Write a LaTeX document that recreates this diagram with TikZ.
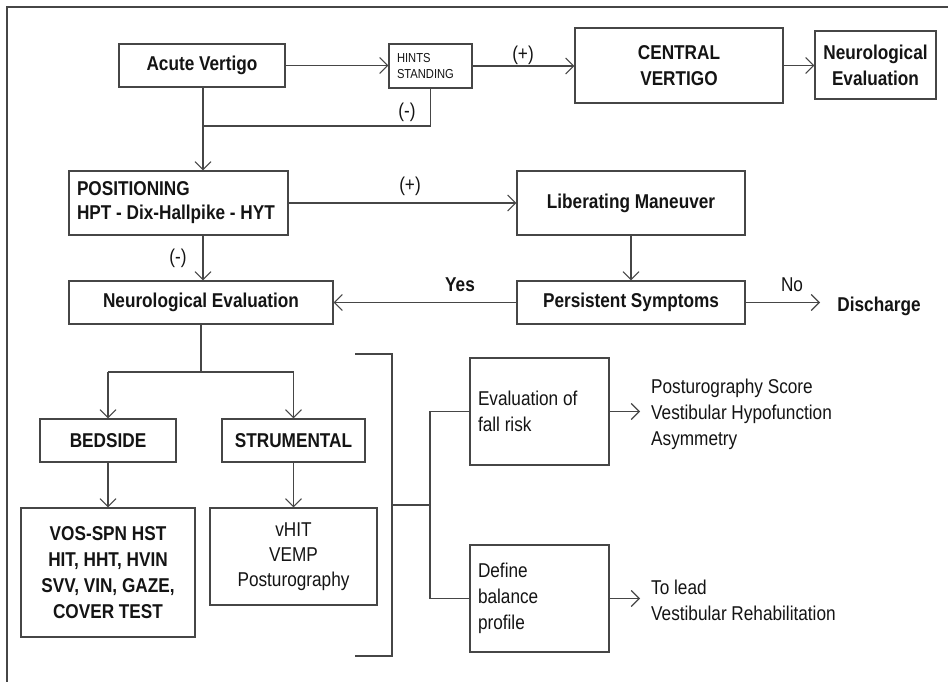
\documentclass[tikz,border=0pt]{standalone}
\usepackage{fontspec}
\setmainfont{Liberation Sans}[FakeStretch=0.86]
\usetikzlibrary{arrows.meta}
\definecolor{ln}{RGB}{70,70,70}
\definecolor{tx}{RGB}{20,20,20}
\newcommand\mainsize{\fontsize{20}{26}\selectfont}
\newcommand\smallsize{\fontsize{13}{16}\selectfont}
\begin{document}
\begin{tikzpicture}[x=1pt,y=-1pt,
  every node/.style={text=tx, font=\mainsize},
  box/.style={draw=ln, line width=1.1pt, inner sep=0pt, align=center},
  lbox/.style={draw=ln, line width=1.1pt, inner xsep=8pt, inner ysep=0pt, align=flush left},
  conn/.style={draw=ln, line width=1.1pt},
  arr/.style={conn, -{Straight Barb[length=8pt,width=16pt]}},
  lbl/.style={inner sep=0pt}]
\useasboundingbox (0,0) rectangle (948,682);
\fill[white] (0,0) rectangle (948,682);
% frame
\draw[ln, line width=1.5pt] (7,682) -- (7,7) -- (948,7);

% upper row
\node[box, minimum width=166pt, minimum height=43pt] (av) at (202,65.5) {\bfseries Acute Vertigo};
\node[lbox, text width=67pt, minimum height=44pt, font=\smallsize] (hints) at (430.5,66) {HINTS\\STANDING};
\node[box, minimum width=208pt, minimum height=75pt] (cv) at (679,65.5) {\bfseries CENTRAL\\\bfseries VERTIGO};
\node[box, minimum width=121pt, minimum height=68pt] (ne1) at (875.5,65) {\bfseries Neurological\\\bfseries Evaluation};

% positioning row
\node[lbox, text width=203pt, minimum height=64pt, font=\fontsize{20}{24}\selectfont] (pos) at (178.5,203)
  {\bfseries POSITIONING\\\mbox{\bfseries HPT - Dix-Hallpike - HYT}};
\node[box, minimum width=228pt, minimum height=64pt] (lm) at (631,203) {\bfseries Liberating Maneuver};
\node[box, minimum width=228pt, minimum height=43pt] (ps) at (631,302.5) {\bfseries Persistent Symptoms};
\node[box, minimum width=264pt, minimum height=43pt] (ne2) at (201,302.5) {\bfseries Neurological Evaluation};
\node[lbl] (dis) at (879,306) {\bfseries Discharge};

% bedside / strumental
\node[box, minimum width=136pt, minimum height=43pt] (bed) at (108,440.5) {\bfseries BEDSIDE};
\node[box, minimum width=143pt, minimum height=43pt] (str) at (293.5,440.5) {\bfseries STRUMENTAL};
\node[box, minimum width=174pt, minimum height=129pt] (bt) at (108,572.5) {\bfseries VOS-SPN HST\\\bfseries HIT, HHT, HVIN\\\bfseries SVV, VIN, GAZE,\\\bfseries COVER TEST};
\node[box, minimum width=167pt, minimum height=97pt, font=\fontsize{20}{25}\selectfont] (st) at (293.5,556.5) {vHIT\\VEMP\\Posturography};

% right branch
\node[lbox, text width=123pt, minimum height=107pt] (efr) at (539.5,411.5) {Evaluation of\\fall risk};
\node[lbox, text width=123pt, minimum height=107pt] (dbp) at (539.5,598.5) {Define\\balance\\profile};
\node[lbl, anchor=west, align=left] (pst) at (651,414) {Posturography Score\\Vestibular Hypofunction\\Asymmetry};
\node[lbl, anchor=west, align=left] (tl) at (651,600) {To lead\\Vestibular Rehabilitation};

% junction points
\coordinate (j1) at (203,126);
\coordinate (j2) at (201,372);
\coordinate (dend) at (820,302.5);
\coordinate (b1) at (355,354);
\coordinate (b2) at (392,354);
\coordinate (b3) at (392,656);
\coordinate (b4) at (355,656);
\coordinate (b5) at (392,505);
\coordinate (b6) at (430,505);
\coordinate (b7) at (430,411.5);
\coordinate (b8) at (430,598.5);
\coordinate (e1) at (640,411.5);
\coordinate (e2) at (640,598.5);

% connectors
\draw[arr] (av.east) -- (hints.west |- av.east);
\draw[conn] (hints.south) |- (j1);
\draw[arr] (j1 |- av.south) -- (j1 |- pos.north);
\draw[arr] (hints.east) -- (cv.west |- hints.east);
\draw[arr] (cv.east) -- (ne1.west |- cv.east);
\draw[arr] (pos.east) -- (lm.west);
\draw[arr] (lm.south) -- (ps.north);
\draw[arr] (j1 |- pos.south) -- (j1 |- ne2.north);
\draw[arr] (ps.west) -- (ne2.east);
\draw[arr] (ps.east) -- (dend);
\draw[conn] (ne2.south) -- (j2);
\draw[conn] (bed.north |- j2) -- (str.north |- j2);
\draw[arr] (bed.north |- j2) -- (bed.north);
\draw[arr] (str.north |- j2) -- (str.north);
\draw[arr] (bed.south) -- (bt.north);
\draw[arr] (str.south) -- (st.north);
\draw[conn] (b1) -- (b2) -- (b3) -- (b4);
\draw[conn] (b5) -- (b6);
\draw[conn] (efr.west) -- (b7) -- (b8) -- (dbp.west);
\draw[arr] (efr.east) -- (e1);
\draw[arr] (dbp.east) -- (e2);

% branch labels
\node[lbl] (m1) at (407,112) {(-)};
\node[lbl] (p1) at (523,55) {(+)};
\node[lbl] (p2) at (410,186) {(+)};
\node[lbl] (m2) at (178,258) {(-)};
\node[lbl] (yes) at (460,285) {\bfseries Yes};
\node[lbl] (no) at (792,285) {No};
\end{tikzpicture}
\end{document}
